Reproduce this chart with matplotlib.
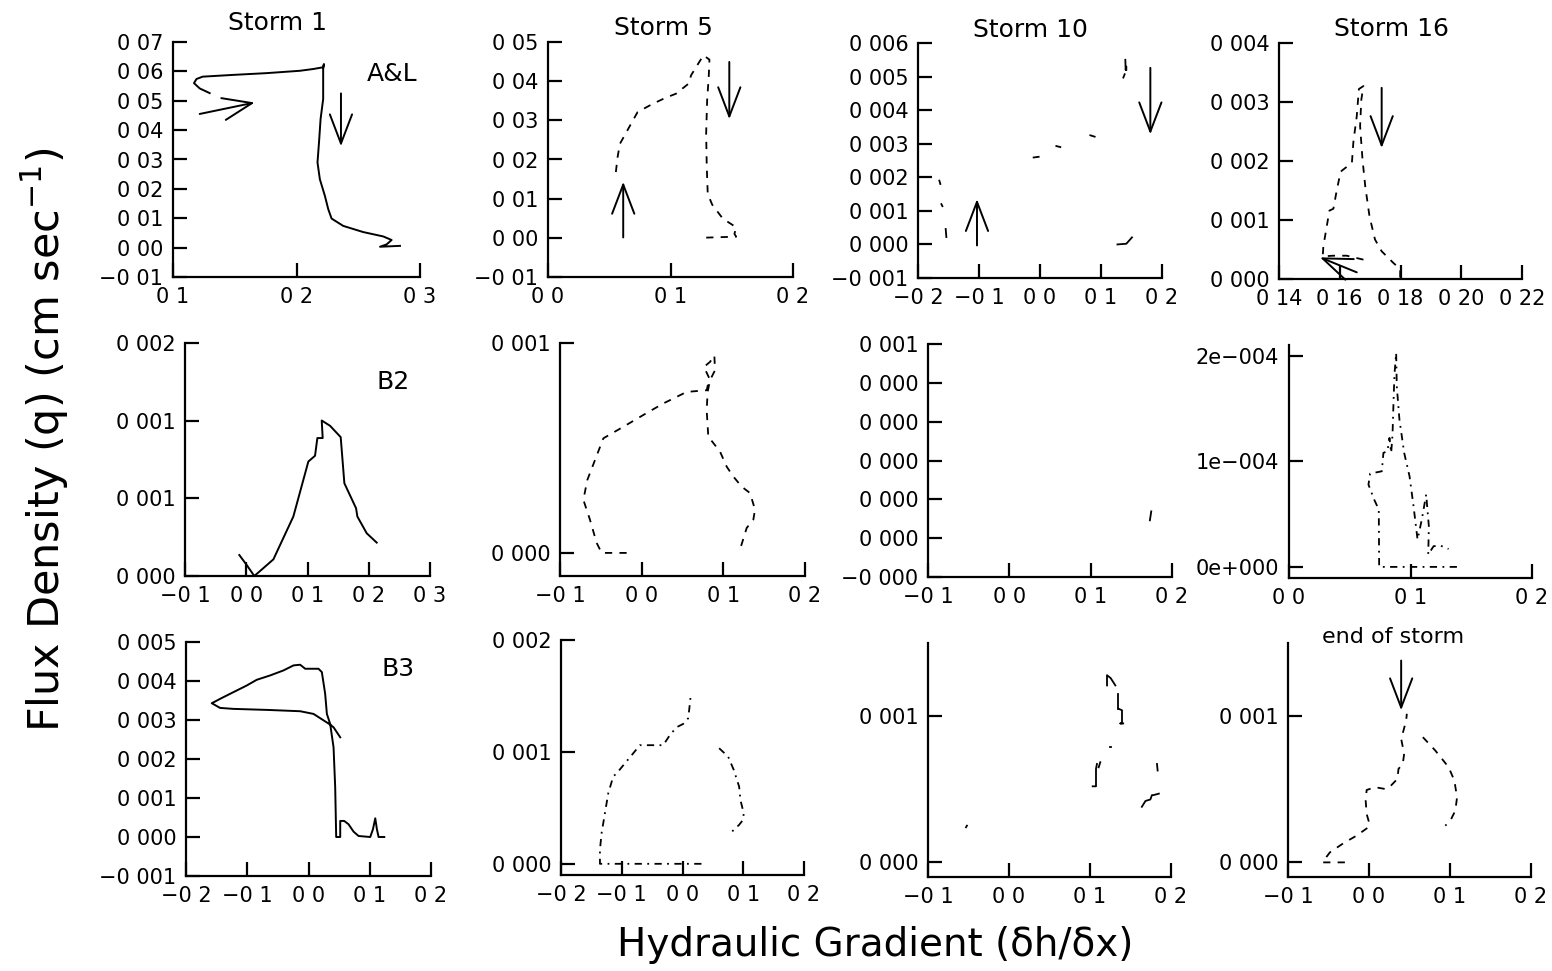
import matplotlib.pyplot as plt
from matplotlib.ticker import FuncFormatter

plt.rcParams['font.family'] = ['DejaVu Sans']

# ---- Storm 1 ----
s1_al_x = [0.1297, 0.1216, 0.117, 0.119, 0.124, 0.1486, 0.1757, 0.2027, 0.2135, 0.2216, 0.2222, 0.2216,
           0.2216, 0.2195, 0.2184, 0.217, 0.2189, 0.223, 0.2257, 0.2284, 0.2378, 0.254, 0.2703, 0.277,
           0.273, 0.2676, 0.2838]
s1_al_y = [0.0526, 0.0542, 0.056, 0.0574, 0.0582, 0.0588, 0.0594, 0.0602, 0.0608, 0.0614, 0.0625, 0.0608,
           0.0506, 0.0438, 0.0369, 0.029, 0.0233, 0.0176, 0.0131, 0.0099, 0.0074, 0.0053, 0.0038, 0.0026,
           0.0011, 0.0003, 0.0006]
s1_b2_x = [-0.0113, 0.0007, 0.0132, 0.0443, 0.0769, 0.1014, 0.1123, 0.1161, 0.1248, 0.1232, 0.1368,
           0.1542, 0.1602, 0.1793, 0.1814, 0.1967, 0.213]
s1_b2_y = [0.000135, 0.000071, 0.0, 0.000107, 0.000383, 0.000737, 0.000774, 0.000888, 0.000888, 0.001001,
           0.000967, 0.000894, 0.000597, 0.000436, 0.000383, 0.000275, 0.000215]
s1_b3_x = [0.0518, 0.0409, 0.0354, 0.0082, -0.0136, -0.0681, -0.1226, -0.1444, -0.158, -0.1526, -0.1444,
           -0.1226, -0.1008, -0.0845, -0.0627, -0.0409, -0.0245, -0.0136, -0.0054, 0.0163, 0.0218, 0.0272,
           0.03, 0.0354, 0.0409, 0.0436, 0.0452, 0.0518, 0.0518, 0.0583, 0.0654, 0.0736, 0.0817, 0.1008,
           0.1052, 0.109, 0.1117, 0.1144, 0.1237]
s1_b3_y = [0.002556, 0.002813, 0.002882, 0.003156, 0.003225, 0.003259, 0.003285, 0.00331, 0.003431,
           0.003473, 0.003542, 0.003714, 0.003885, 0.004031, 0.004142, 0.004271, 0.0044, 0.004417,
           0.004314, 0.004314, 0.004228, 0.003671, 0.003156, 0.002899, 0.002298, 0.001269, 0.0, 0.0,
           0.000412, 0.000412, 0.000326, 0.000137, 0.0000257, 0.0, 0.000197, 0.00048, 0.000197, 0.0, 0.0]

# ---- Storm 5 ----
s5_al_x = [0.0554, 0.0568, 0.0587, 0.0731, 0.0854, 0.0963, 0.1045, 0.1149, 0.1168, 0.1209, 0.1269, 0.1318,
           0.1312, 0.1299, 0.1291, 0.1296, 0.1304, 0.134, 0.1427, 0.1536, 0.1522, 0.1536, 0.1236]
s5_al_y = [0.0168, 0.0206, 0.024, 0.0321, 0.0342, 0.0358, 0.0368, 0.0394, 0.0415, 0.0436, 0.0466, 0.0455,
           0.0411, 0.0351, 0.0266, 0.0181, 0.0112, 0.0085, 0.0049, 0.0027, 0.001, 0.0003, 0.0]
s5_b2_x = [-0.0184, -0.049, -0.0551, -0.0633, -0.0714, -0.0665, -0.0571, -0.0469, -0.0224, 0.002, 0.0265,
           0.0551, 0.0796, 0.0829, 0.0763, 0.0837, 0.089, 0.0898, 0.0837, 0.0808, 0.0796, 0.0816, 0.0959,
           0.1041, 0.1122, 0.1224, 0.1327, 0.1388, 0.1367, 0.1286, 0.1204]
s5_b2_y = [0.0, 0.0, 0.0000475, 0.000158, 0.000253, 0.000348, 0.000443, 0.000546, 0.000601, 0.000657,
           0.000712, 0.000767, 0.000775, 0.000831, 0.000886, 0.00091, 0.000941, 0.00087, 0.000823,
           0.000767, 0.00068, 0.000554, 0.000483, 0.000411, 0.000364, 0.000316, 0.000285, 0.000206,
           0.000158, 0.000119, 0.000016]
s5_b3_rise_x = [0.0312, -0.1359, -0.1359, -0.1332, -0.1277, -0.1222, -0.114, -0.1074, -0.0701, -0.0318,
                -0.0208, -0.0099, 0.0011, 0.0093, 0.011, 0.0132]
s5_b3_rise_y = [0.0, 0.0, 0.000125, 0.000274, 0.000452, 0.000631, 0.00078, 0.000815, 0.00106, 0.00106,
                0.00115, 0.00122, 0.00125, 0.0013, 0.001375, 0.001488]
s5_b3_fall_x = [0.0603, 0.0751, 0.0844, 0.0932, 0.0953, 0.1008, 0.0997, 0.0932, 0.0844, 0.0767]
s5_b3_fall_y = [0.001033, 0.000958, 0.000839, 0.00069, 0.000571, 0.000452, 0.000393, 0.000348, 0.000304,
                0.000259]

# ---- Storm 10 (only short fragments are visible) ----
s10_al_pieces_x = [[-0.165, -0.1634], [-0.1617, -0.16], [-0.1546, -0.1535], [-0.0104, -0.0022],
                   [0.0268, 0.0333], [0.0825, 0.0896], [0.1366, 0.1388], [0.1399, 0.1404, 0.1415, 0.1415],
                   [0.127, 0.1415, 0.1508]]
s10_al_pieces_y = [[0.0019, 0.0018], [0.0012, 0.00114], [0.00046, 0.00022], [0.00259, 0.00261],
                   [0.00293, 0.0029], [0.00325, 0.00321], [0.00497, 0.00507], [0.0055, 0.0052, 0.0053, 0.0052],
                   [0.0, 0.00002, 0.00021]]
s10_b2_x = [0.1745, 0.1728]
s10_b2_y = [0.000069, 0.000046]
s10_b3_pieces_x = [[-0.0519, -0.0531], [0.1086, 0.1074, 0.1074, 0.1033], [0.1127, 0.1107],
                   [0.1245, 0.1265], [0.1346, 0.1346], [0.1355, 0.1395, 0.1395, 0.1375, 0.141],
                   [0.121, 0.121, 0.1255, 0.1313], [0.164, 0.1685, 0.1745, 0.1765, 0.1785, 0.185],
                   [0.1827, 0.1835]]
s10_b3_pieces_y = [[0.000251, 0.000240], [0.000673, 0.000640, 0.00052, 0.00052], [0.000685, 0.00065],
                   [0.000792, 0.000792], [0.00115, 0.00105], [0.00105, 0.00104, 0.00095, 0.00095, 0.00095],
                   [0.00121, 0.00128, 0.00126, 0.00121], [0.00038, 0.00042, 0.00043, 0.00046, 0.00046, 0.00047],
                   [0.000673, 0.000628]]

# ---- Storm 16 ----
s16_al_x = [0.1678, 0.1623, 0.1579, 0.1544, 0.1546, 0.156, 0.1566, 0.1579, 0.159, 0.1603, 0.164, 0.1645,
            0.1656, 0.1663, 0.1678, 0.1671, 0.1667, 0.1675, 0.1684, 0.1698, 0.1716, 0.1738, 0.1777,
            0.1799, 0.1799]
s16_al_y = [0.000328, 0.000395, 0.000395, 0.000384, 0.000554, 0.000977, 0.00116, 0.00119, 0.0015, 0.00182,
            0.00197, 0.00233, 0.00276, 0.00322, 0.00327, 0.00304, 0.00259, 0.00202, 0.00157, 0.00106,
            0.00067, 0.00047, 0.00027, 0.00017, 0.0]
s16_b2_x = [0.1382, 0.0742, 0.0739, 0.0701, 0.0654, 0.0668, 0.0764, 0.0777, 0.081, 0.0827, 0.0841, 0.0852,
            0.086, 0.0868, 0.0882, 0.0887, 0.0909, 0.0948, 0.0992, 0.1025, 0.1058, 0.1093, 0.1129, 0.1151,
            0.1146, 0.119, 0.1245, 0.1313]
s16_b2_y = [0.0, 0.0, 5.43e-5, 6.37e-5, 7.79e-5, 8.83e-5, 9.05e-5, 1.079e-4, 1.095e-4, 1.221e-4, 1.079e-4,
            1.252e-4, 1.552e-4, 1.82e-4, 2.025e-4, 1.71e-4, 1.394e-4, 1.079e-4, 8.58e-5, 5.74e-5, 2.59e-5,
            4.48e-5, 6.85e-5, 3.85e-5, 1.17e-5, 1.96e-5, 2.02e-5, 1.7e-5]
s16_b3_rise_x = [-0.0298, -0.0574, -0.0545, -0.0483, -0.0318, -0.0153, -0.0008, 0.0004, -0.0029, -0.0041,
                 -0.0029, 0.0074, 0.0198, 0.0252, 0.0351, 0.0364, 0.0417, 0.0434, 0.0397, 0.0426, 0.0459,
                 0.0467]
s16_b3_rise_y = [0.0, 0.0, 0.0000228, 0.0000685, 0.00013, 0.000183, 0.00024, 0.000267, 0.000331, 0.000422,
                 0.000495, 0.000514, 0.000502, 0.000514, 0.000571, 0.000639, 0.000674, 0.000742, 0.000845,
                 0.000902, 0.00097, 0.001016]
s16_b3_fall_x = [0.0665, 0.0818, 0.0983, 0.1054, 0.1087, 0.1066, 0.1004, 0.0942]
s16_b3_fall_y = [0.000856, 0.000765, 0.000651, 0.000559, 0.000445, 0.000354, 0.000285, 0.000251]

storm_titles = ['Storm 1', 'Storm 5', 'Storm 10', 'Storm 16']

W, H = 1552, 971
fig = plt.figure(figsize=(W / 100, H / 100), dpi=100)


def dec_fmt(d):
    def f(v, pos):
        s = f"{v:.{d}f}".replace('.', ' ')
        return s.replace('-', '\u2212')
    return FuncFormatter(f)


def exp_fmt(v, pos):
    m, e = f"{v:.0e}".split('e')
    sign = '+' if e[0] == '+' else '\u2212'
    return f"{m}e{sign}{abs(int(e)):03d}"


def make_ax(l, r, t, b, xlim, ylim, xticks, yticks, xd, yd):
    ax = fig.add_axes([l / W, 1 - b / H, (r - l) / W, (b - t) / H])
    ax.set_xlim(xlim)
    ax.set_ylim(ylim)
    ax.set_xticks(xticks)
    ax.set_yticks(yticks)
    ax.xaxis.set_major_formatter(dec_fmt(xd))
    ax.yaxis.set_major_formatter(exp_fmt if yd == 'e' else dec_fmt(yd))
    for s in ['top', 'right']:
        ax.spines[s].set_visible(False)
    for s in ['left', 'bottom']:
        ax.spines[s].set_linewidth(1.6)
    ax.tick_params(direction='in', length=10, width=1.6, labelsize=15, pad=7)
    ax.patch.set_alpha(0)
    return ax


def arrow(ax, tail, head):
    ax.annotate('', xy=head, xytext=tail, annotation_clip=False,
                arrowprops=dict(arrowstyle='->,head_length=2.1,head_width=0.8', lw=1.4,
                                color='black', shrinkA=0, shrinkB=0, mutation_scale=10))


lw = 1.4
dash = dict(ls=(0, (4, 4)), lw=1.3, color='black')
dashdot = dict(ls=(0, (4, 3, 1, 3)), lw=1.3, color='black')

# Row 1
ax = make_ax(173, 420, 42, 277, (0.1, 0.3), (-0.01, 0.07), [0.1, 0.2, 0.3],
             [-0.01, 0, 0.01, 0.02, 0.03, 0.04, 0.05, 0.06, 0.07], 1, 2)
ax.plot(s1_al_x, s1_al_y, color='black', lw=lw)
arrow(ax, (0.1216, 0.0455), (0.1662, 0.0494))
arrow(ax, (0.236, 0.0525), (0.236, 0.0345))
ax.text(0.887, 0.864, 'A&L', transform=ax.transAxes, ha='center', va='center', fontsize=18)

ax = make_ax(548, 793, 42, 277, (0.0, 0.2), (-0.01, 0.05), [0.0, 0.1, 0.2],
             [-0.01, 0, 0.01, 0.02, 0.03, 0.04, 0.05], 1, 2)
ax.plot(s5_al_x, s5_al_y, **dash)
arrow(ax, (0.0614, 0.0001), (0.0614, 0.0143))
arrow(ax, (0.148, 0.0449), (0.148, 0.0303))

ax = make_ax(918, 1162, 43, 278, (-0.2, 0.2), (-0.001, 0.006), [-0.2, -0.1, 0.0, 0.1, 0.2],
             [-0.001, 0, 0.001, 0.002, 0.003, 0.004, 0.005, 0.006], 1, 3)
for px, py in zip(s10_al_pieces_x, s10_al_pieces_y):
    ax.plot(px, py, color='black', lw=1.3)
arrow(ax, (-0.1033, -0.00003), (-0.1033, 0.00135))
arrow(ax, (0.1809, 0.00526), (0.1809, 0.00328))

ax = make_ax(1279, 1522, 43, 279, (0.14, 0.22), (0.0, 0.004), [0.14, 0.16, 0.18, 0.20, 0.22],
             [0, 0.001, 0.002, 0.003, 0.004], 2, 3)
ax.plot(s16_al_x, s16_al_y, **dash)
arrow(ax, (0.1656, 0.000113), (0.1535, 0.000367))
arrow(ax, (0.1738, 0.00324), (0.1738, 0.00222))

# Row 2
ax = make_ax(185, 430, 343, 576, (-0.1, 0.3), (0.0, 0.0015), [-0.1, 0.0, 0.1, 0.2, 0.3],
             [0, 0.0005, 0.001, 0.0015], 1, 3)
ax.plot(s1_b2_x, s1_b2_y, color='black', lw=lw)
ax.text(0.849, 0.833, 'B2', transform=ax.transAxes, ha='center', va='center', fontsize=18)

ax = make_ax(560, 805, 343, 576, (-0.1, 0.2), (-0.00011, 0.001), [-0.1, 0.0, 0.1, 0.2],
             [0, 0.001], 1, 3)
ax.plot(s5_b2_x, s5_b2_y, **dash)

ax = make_ax(928, 1172, 344, 577, (-0.1, 0.2), (-0.0001, 0.0005), [-0.1, 0.0, 0.1, 0.2],
             [-0.0001, 0, 0.0001, 0.0002, 0.0003, 0.0004, 0.0005], 1, 3)
ax.plot(s10_b2_x, s10_b2_y, color='black', lw=1.3)

ax = make_ax(1289, 1532, 345, 578, (0.0, 0.2), (-1.05e-5, 2.1e-4), [0.0, 0.1, 0.2],
             [0, 1e-4, 2e-4], 1, 'e')
ax.plot(s16_b2_x, s16_b2_y, **dashdot)

# Row 3
ax = make_ax(186, 431, 642, 876, (-0.2, 0.2), (-0.001, 0.005), [-0.2, -0.1, 0.0, 0.1, 0.2],
             [-0.001, 0, 0.001, 0.002, 0.003, 0.004, 0.005], 1, 3)
ax.plot(s1_b3_x, s1_b3_y, color='black', lw=lw)
ax.text(0.865, 0.885, 'B3', transform=ax.transAxes, ha='center', va='center', fontsize=18)

ax = make_ax(561, 804, 640, 875, (-0.2, 0.2), (-0.0001, 0.002), [-0.2, -0.1, 0.0, 0.1, 0.2],
             [0, 0.001, 0.002], 1, 3)
ax.plot(s5_b3_rise_x, s5_b3_rise_y, **dashdot)
ax.plot(s5_b3_fall_x, s5_b3_fall_y, **dashdot)

ax = make_ax(928, 1171, 643, 877, (-0.1, 0.2), (-0.0001, 0.0015), [-0.1, 0.0, 0.1, 0.2],
             [0, 0.001], 1, 3)
for px, py in zip(s10_b3_pieces_x, s10_b3_pieces_y):
    ax.plot(px, py, color='black', lw=1.3)

ax = make_ax(1288, 1531, 643, 877, (-0.1, 0.2), (-0.0001, 0.0015), [-0.1, 0.0, 0.1, 0.2],
             [0, 0.001], 1, 3)
ax.plot(s16_b3_rise_x, s16_b3_rise_y, **dash)
ax.plot(s16_b3_fall_x, s16_b3_fall_y, **dash)
arrow(ax, (0.0397, 0.00138), (0.0397, 0.00104))
ax.text(0.03, 0.00147, 'end of storm', ha='center', va='bottom', fontsize=16)

# titles and axis labels
for title, cx, cy in zip(storm_titles, [277, 663, 1030, 1392], [23, 28, 30, 29]):
    fig.text(cx / W, 1 - cy / H, title, ha='center', va='center', fontsize=18)

fig.text(45 / W, 1 - 440 / H, 'Flux Density (q) (cm sec$^{-1}$)', rotation=90,
         ha='center', va='center', fontsize=31)
fig.text(875 / W, 1 - 945 / H, 'Hydraulic Gradient (\u03b4h/\u03b4x)', ha='center', va='center',
         fontsize=28)

fig.savefig('out.png', dpi=100, facecolor='white')
